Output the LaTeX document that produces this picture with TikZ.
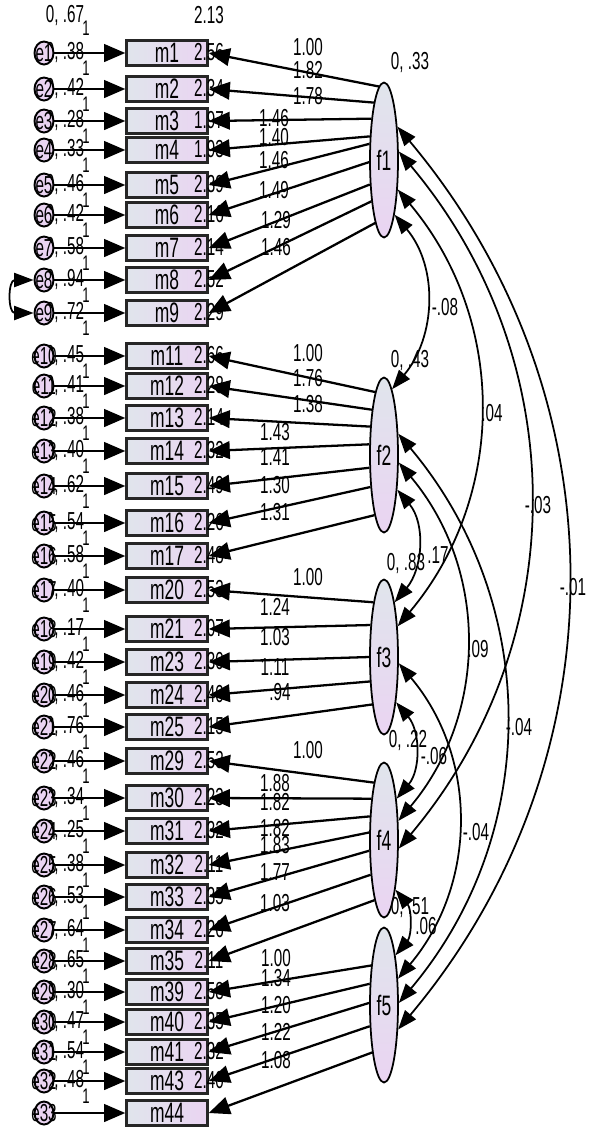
\documentclass[tikz,border=0pt]{standalone}
\usepackage{fontspec}
\setmainfont{Liberation Sans}[FakeStretch=0.62]
\usepackage{tikz}
\usetikzlibrary{positioning}
\usetikzlibrary{calc}
\usetikzlibrary{arrows.meta}
\usetikzlibrary{shapes.geometric}

\definecolor{obsleft}{RGB}{224,229,236}
\definecolor{obsright}{RGB}{234,212,242}

\begin{document}
\begin{tikzpicture}[x=0.02cm, y=0.02cm, font=\fontsize{14}{14}\selectfont,
    obs/.style={rectangle, draw=black!85, line width=1.4pt, minimum width=1.62cm, minimum height=0.5cm, inner sep=0pt, left color=obsleft, right color=obsright, font=\fontsize{16}{16}\selectfont},
    lat/.style={ellipse, draw, line width=1pt, minimum width=0.56cm, minimum height=3.1cm, inner sep=0pt, top color=obsleft, bottom color=obsright, font=\fontsize{16}{16}\selectfont},
    err/.style={ellipse, draw, line width=1.1pt, minimum width=0.38cm, minimum height=0.46cm, inner sep=0pt, fill=obsright},
    loadarrow/.style={line width=1.3pt, -{Triangle[length=12pt, width=10pt]}},
    cov/.style={line width=1pt, {Triangle[length=11pt, width=8pt]}-{Triangle[length=11pt, width=8pt]}},
    lbl/.style={inner sep=0pt},
    onelbl/.style={inner sep=0pt, font=\fontsize{12}{12}\selectfont}]
    \useasboundingbox (0,0) rectangle (589,-1134);
    % observed items, their errors and intercepts
    \node[lbl] (v0) at (65,-15) {0, .67};
    \node[onelbl] (o0) at (86,-28) {1};
    \node[lbl] (i0) at (209,-15) {2.13};
    \foreach \nm/\yy/\en/\va/\ic in {
      1/53/1/.38/2.56, 2/89/2/.42/2.34, 3/121/3/.28/1.97, 4/150/4/.33/1.93,
      5/185/5/.46/2.39, 6/215/6/.42/2.16, 7/248/7/.58/2.14, 8/280/8/.94/2.52,
      9/313/9/.72/2.29, 11/356/10/.45/2.66, 12/386/11/.41/2.28, 13/418/12/.38/2.14,
      14/451/13/.40/2.32, 15/486/14/.62/2.49, 16/523/15/.54/2.26, 17/556/16/.58/2.48,
      20/590/17/.40/2.53, 21/629/18/.17/2.07, 23/662/19/.42/2.30, 24/695/20/.46/2.40,
      25/727/21/.76/2.15, 29/761/22/.46/2.53, 30/798/23/.34/2.23, 31/831/24/.25/2.32,
      32/865/25/.38/2.11, 33/897/26/.53/2.35, 34/930/27/.64/2.26, 35/961/28/.65/2.11,
      39/992/29/.30/2.58, 40/1022/30/.47/2.35, 41/1052/31/.54/2.32, 43/1081/32/.48/2.40}
    {
      \node[obs] (m\nm) at (167,-\yy) {m\nm};
      \node[lbl] (v\en) at (65,-\yy+1) {0, \va};
      \node[err] (e\en) at (44,-\yy) {};
      \node[lbl] (t\en) at (44,-\yy) {e\en};
      \draw[loadarrow] (e\en) -- (m\nm);
      \node[lbl] (i\nm) at (209,-\yy+1) {\ic};
      \node[onelbl] (o\en) at (86,-\yy-15) {1};
    }
    \node[obs] (m44) at (167,-1113) {m44};
    \node[err] (e33) at (44,-1113) {};
    \node[lbl] (t33) at (44,-1113) {e33};
    \draw[loadarrow] (e33) -- (m44);
    \draw[cov] (e8.west) to[out=180, in=180, looseness=2] (e9.west);

    % factors
    \node[lat] (f1) at (384,-160) {f1};
    \node[lat] (f2) at (384,-455) {f2};
    \node[lat] (f3) at (384,-657) {f3};
    \node[lat] (f4) at (384,-840) {f4};
    \node[lat] (f5) at (384,-1005) {f5};
    \node[lbl] (u1) at (410,-62) {0, .33};
    \node[lbl] (u2) at (410,-360) {0, .43};
    \node[lbl] (u3) at (406,-563) {0, .83};
    \node[lbl] (u4) at (408,-740) {0, .22};
    \node[lbl] (u5) at (410,-907) {0, .51};

    % loadings
    \foreach \nm/\ang/\lx/\ly/\w in {1/94/308/47/1.00, 2/100/308/70/1.82, 3/107/308/96/1.78,
      4/121/274/118/1.46, 5/132/274/137/1.40, 6/188/274/160/1.46, 7/240/274/190/1.49,
      8/253/276/220/1.29, 9/262/276/247/1.46}
    {
      \draw[loadarrow] (f1.\ang) -- (m\nm.east);
      \node[lbl] (w\nm) at (\lx,-\ly) {\w};
    }
    \foreach \nm/\ang/\lx/\ly/\w in {11/98/308/353/1.00, 12/105/308/378/1.76, 13/116/308/404/1.38,
      14/144/275/432/1.43, 15/221/275/457/1.41, 16/247/275/485/1.30, 17/261/275/512/1.31}
    {
      \draw[loadarrow] (f2.\ang) -- (m\nm.east);
      \node[lbl] (w\nm) at (\lx,-\ly) {\w};
    }
    \foreach \nm/\ang/\lx/\ly/\w in {20/101/308/577/1.00, 21/113/275/607/1.24, 23/180/275/637/1.03,
      24/240/275/667/1.11, 25/256/280/692/.94}
    {
      \draw[loadarrow] (f3.\ang) -- (m\nm.east);
      \node[lbl] (w\nm) at (\lx,-\ly) {\w};
    }
    \foreach \nm/\ang/\lx/\ly/\w in {29/100/308/750/1.00, 30/107/275/783/1.88, 31/121/275/802/1.82,
      32/153/275/828/1.82, 33/216/275/845/1.83, 34/249/275/872/1.77, 35/261/275/903/1.03}
    {
      \draw[loadarrow] (f4.\ang) -- (m\nm.east);
      \node[lbl] (w\nm) at (\lx,-\ly) {\w};
    }
    \foreach \nm/\ang/\lx/\ly/\w in {39/108/276/958/1.00, 40/124/276/978/1.34, 41/172/276/1005/1.20,
      43/236/276/1032/1.22, 44/256/276/1060/1.08}
    {
      \draw[loadarrow] (f5.\ang) -- (m\nm.east);
      \node[lbl] (w\nm) at (\lx,-\ly) {\w};
    }

    % factor covariances
    \foreach \a/\aa/\b/\bb/\w/\lx/\ly [count=\k] in {
      f1/281/f2/83/-.08/445/307, f1/295/f3/66/.04/492/413,
      f1/30/f4/330/-.03/538/505, f1/68/f5/300/-.01/573/587,
      f2/291/f3/79/.17/438/555, f2/333/f4/53/.09/478/649,
      f2/56/f5/8/-.04/519/727, f3/285/f4/73/-.06/434/756,
      f3/337/f5/62/-.04/476/832, f4/283/f5/77/.06/426/926}
    {
      \draw[cov] (\a.\aa) to[out=-50, in=50] (\b.\bb);
      \node[lbl] (k\k) at (\lx,-\ly) {\w};
    }
\end{tikzpicture}
\end{document}
